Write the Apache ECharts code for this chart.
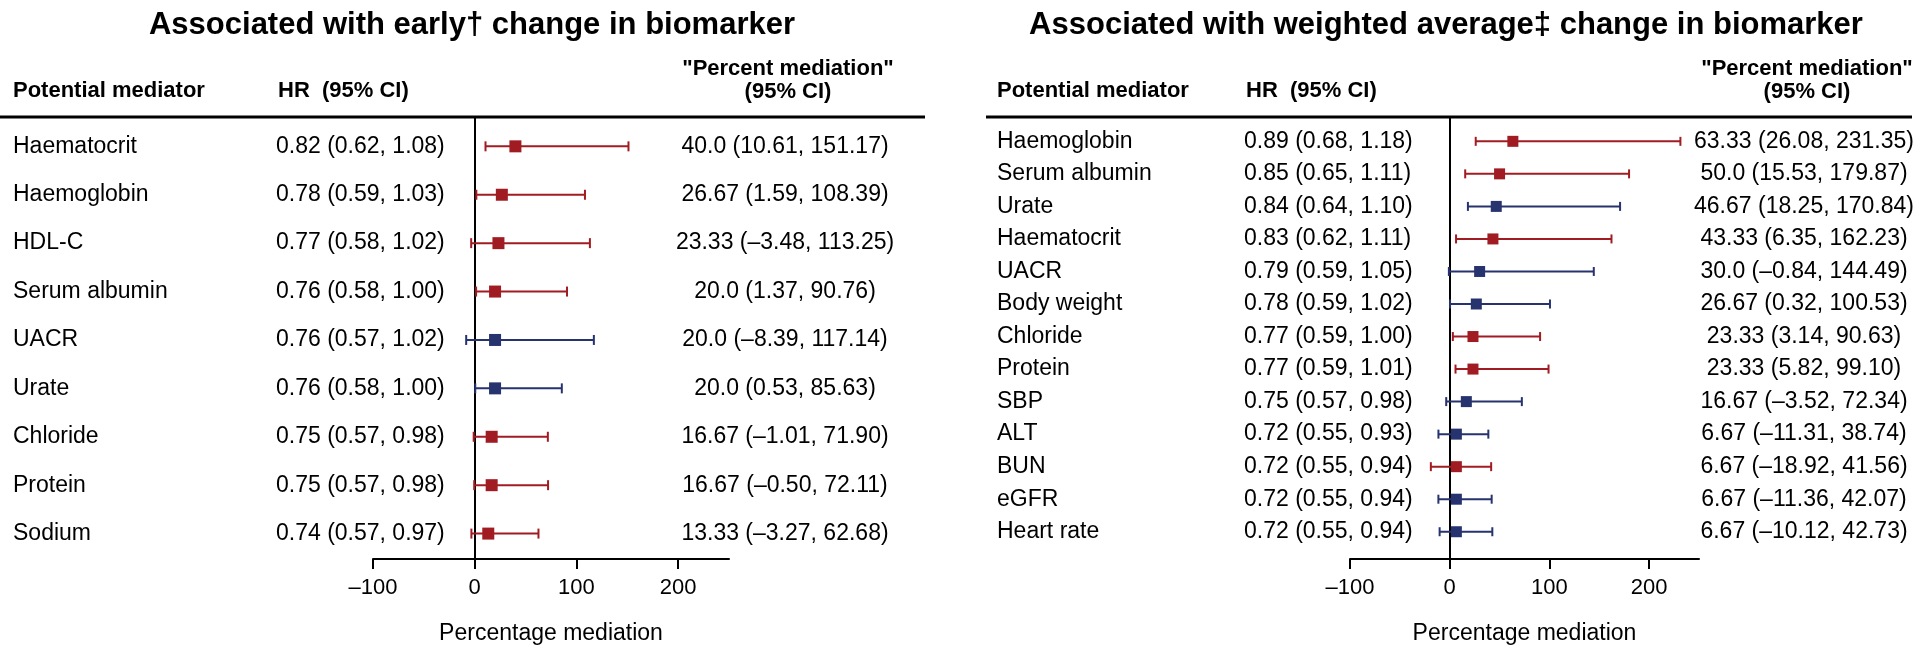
<!DOCTYPE html>
<html>
<head>
<meta charset="utf-8">
<script src="https://cdn.jsdelivr.net/npm/echarts@6/dist/echarts.min.js"></script>
<style>
  html, body { margin: 0; padding: 0; background: #fff; }
  #chart { width: 1920px; height: 650px; }
</style>
</head>
<body>
<div id="chart"></div>
<script>
// early change in biomarker
const earlyNames = ["Haematocrit", "Haemoglobin", "HDL-C", "Serum albumin", "UACR", "Urate", "Chloride", "Protein", "Sodium"];
const earlyHR = [0.82, 0.78, 0.77, 0.76, 0.76, 0.76, 0.75, 0.75, 0.74];
const earlyHRLow = [0.62, 0.59, 0.58, 0.58, 0.57, 0.58, 0.57, 0.57, 0.57];
const earlyHRHigh = [1.08, 1.03, 1.02, 1.0, 1.02, 1.0, 0.98, 0.98, 0.97];
const earlyPct = [40.0, 26.67, 23.33, 20.0, 20.0, 20.0, 16.67, 16.67, 13.33];
const earlyPctLow = [10.61, 1.59, -3.48, 1.37, -8.39, 0.53, -1.01, -0.5, -3.27];
const earlyPctHigh = [151.17, 108.39, 113.25, 90.76, 117.14, 85.63, 71.9, 72.11, 62.68];
const earlyGroup = ["red", "red", "red", "red", "blue", "blue", "red", "red", "red"];

// weighted average change in biomarker
const avgNames = ["Haemoglobin", "Serum albumin", "Urate", "Haematocrit", "UACR", "Body weight", "Chloride", "Protein", "SBP", "ALT", "BUN", "eGFR", "Heart rate"];
const avgHR = [0.89, 0.85, 0.84, 0.83, 0.79, 0.78, 0.77, 0.77, 0.75, 0.72, 0.72, 0.72, 0.72];
const avgHRLow = [0.68, 0.65, 0.64, 0.62, 0.59, 0.59, 0.59, 0.59, 0.57, 0.55, 0.55, 0.55, 0.55];
const avgHRHigh = [1.18, 1.11, 1.1, 1.11, 1.05, 1.02, 1.0, 1.01, 0.98, 0.93, 0.94, 0.94, 0.94];
const avgPct = [63.33, 50.0, 46.67, 43.33, 30.0, 26.67, 23.33, 23.33, 16.67, 6.67, 6.67, 6.67, 6.67];
const avgPctLow = [26.08, 15.53, 18.25, 6.35, -0.84, 0.32, 3.14, 5.82, -3.52, -11.31, -18.92, -11.36, -10.12];
const avgPctHigh = [231.35, 179.87, 170.84, 162.23, 144.49, 100.53, 90.63, 99.1, 72.34, 38.74, 41.56, 42.07, 42.73];
const avgGroup = ["red", "red", "blue", "red", "blue", "blue", "red", "red", "blue", "blue", "red", "blue", "blue"];

const xTicks = [-100, 0, 100, 200];

const COLORS = { red: "#A11C22", blue: "#26336F" };
const FONT = '"Liberation Sans", Arial, sans-serif';

const num = (v, d) => (v < 0 ? "\u2013" : "") + Math.abs(v).toFixed(d);
const est = (v) => num(v, Number.isInteger(v) ? 1 : 2);

const panels = [
  {
    title: "Associated with early\u2020 change in biomarker",
    names: earlyNames, hr: earlyHR, hrLo: earlyHRLow, hrHi: earlyHRHigh,
    pct: earlyPct, lo: earlyPctLow, hi: earlyPctHigh, group: earlyGroup,
    grid: { left: 373, top: 117, width: 356, height: 452 },
    yMin: -0.606, yMax: 8.525,
    nameX: 13, hrX: 276, pctX: 785, lineX: [0, 925], titleX: 472,
    cap: 10, box: 12,
  },
  {
    title: "Associated with weighted average\u2021 change in biomarker",
    names: avgNames, hr: avgHR, hrLo: avgHRLow, hrHi: avgHRHigh,
    pct: avgPct, lo: avgPctLow, hi: avgPctHigh, group: avgGroup,
    grid: { left: 1350, top: 117, width: 349, height: 454 },
    yMin: -0.748, yMax: 12.838,
    nameX: 997, hrX: 1244, pctX: 1804, lineX: [986, 1912], titleX: 1446,
    cap: 9, box: 11,
  },
];

const txt = (x, y, text, align, font) => ({
  type: "text",
  style: { x, y, text, font, fill: "#000", align, textAlign: align, verticalAlign: "middle", textVerticalAlign: "middle" },
});

const chart = echarts.init(document.getElementById("chart"));

const graphic = [];
panels.forEach((p) => {
  graphic.push(txt(p.titleX, 25, p.title, "center", "bold 31px " + FONT));
  graphic.push(txt(p.nameX, 91, "Potential mediator", "left", "bold 22px " + FONT));
  graphic.push(txt(p.hrX + 2, 91, "HR  (95% CI)", "left", "bold 22px " + FONT));
  graphic.push(txt(p.pctX + 3, 69, '"Percent mediation"', "center", "bold 22px " + FONT));
  graphic.push(txt(p.pctX + 3, 92, "(95% CI)", "center", "bold 22px " + FONT));
  graphic.push({
    type: "line",
    shape: { x1: p.lineX[0], y1: 117, x2: p.lineX[1], y2: 117 },
    style: { stroke: "#000", lineWidth: 3 },
  });
});

chart.setOption({
  animation: false,
  backgroundColor: "#fff",
  grid: panels.map((p) => p.grid),
  xAxis: panels.map((p, k) => ({
    gridIndex: k,
    type: "value",
    min: -100,
    max: 250,
    interval: 100,
    axisLine: { onZero: false, lineStyle: { color: "#000", width: 2 } },
    axisTick: { customValues: xTicks, length: 10, lineStyle: { color: "#000", width: 2 } },
    axisLabel: {
      customValues: xTicks,
      color: "#000",
      fontSize: 22,
      fontFamily: FONT,
      margin: 18,
      formatter: (v) => num(v, 0),
    },
    splitLine: { show: false },
    name: "Percentage mediation",
    nameLocation: "middle",
    nameGap: 63,
    nameTextStyle: { color: "#000", fontSize: 23, fontFamily: FONT },
  })),
  yAxis: panels.map((p, k) => ({
    gridIndex: k,
    type: "value",
    inverse: true,
    min: p.yMin,
    max: p.yMax,
    axisLine: { show: true, onZero: true, lineStyle: { color: "#000", width: 2 } },
    axisTick: { show: false },
    axisLabel: { show: false },
    splitLine: { show: false },
  })),
  graphic,
  series: panels.map((p, k) => ({
    type: "custom",
    xAxisIndex: k,
    yAxisIndex: k,
    clip: false,
    data: p.pct.map((v, i) => [p.lo[i], p.hi[i], v, i]),
    encode: { x: [0, 1, 2], y: 3 },
    renderItem(params, api) {
      const i = api.value(3);
      const a = api.coord([api.value(0), i]);
      const b = api.coord([api.value(1), i]);
      const m = api.coord([api.value(2), i]);
      const y = m[1];
      const col = COLORS[p.group[i]];
      const h = p.cap / 2;
      const s = p.box;
      const ln = () => ({ stroke: col, lineWidth: 2 });
      const hrText = num(p.hr[i], 2) + " (" + num(p.hrLo[i], 2) + ", " + num(p.hrHi[i], 2) + ")";
      const pctText = est(p.pct[i]) + " (" + num(p.lo[i], 2) + ", " + num(p.hi[i], 2) + ")";
      return {
        type: "group",
        children: [
          { type: "line", shape: { x1: a[0], y1: y, x2: b[0], y2: y }, style: ln() },
          { type: "line", shape: { x1: a[0], y1: y - h, x2: a[0], y2: y + h }, style: ln() },
          { type: "line", shape: { x1: b[0], y1: y - h, x2: b[0], y2: y + h }, style: ln() },
          { type: "rect", shape: { x: m[0] - s / 2, y: y - s / 2, width: s, height: s }, style: { fill: col } },
          txt(p.nameX, y, p.names[i], "left", "23px " + FONT),
          txt(p.hrX, y, hrText, "left", "23px " + FONT),
          txt(p.pctX, y, pctText, "center", "23px " + FONT),
        ],
      };
    },
  })),
});
</script>
</body>
</html>
